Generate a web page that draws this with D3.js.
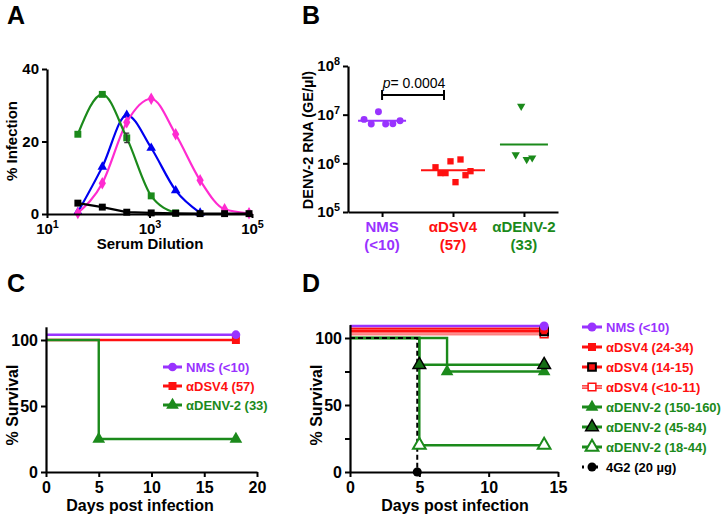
<!DOCTYPE html>
<html>
<head>
<meta charset="utf-8">
<script src="https://cdn.jsdelivr.net/npm/d3@7"></script>
<style>
  body { margin: 0; background: #fff; }
</style>
</head>
<body>
<div id="chart_area"></div>
<script>
// ---- panel A : % infection vs serum dilution
const dilutions = [40, 120, 360, 1080, 3240, 9720, 29160, 87480];
const infBlack = [3, 1.9, 0.5, 0.3, 0.2, 0.1, 0.1, 0.1];
const infGreen = [22, 33, 21, 5, 0.3];
const infGreenErr = [0, 0, 1.3, 0, 0];
const infBlue = [0.5, 13, 27.3, 18.2, 6.5, 0.3];
const infMagenta = [0.3, 8.5, 25.3, 31.8, 22, 9.3, 1.3, 0.2];
const aXTicks = [10, 1e3, 1e5];
const aYTicks = [0, 20, 40];

// ---- panel B : viral RNA per group
const rnaGroups = ['NMS', 'αDSV4', 'αDENV-2'];
const rnaTiters = ['(<10)', '(57)', '(33)'];
const rnaNMS = [8.0e6, 6.4e6, 1.15e7, 6.4e6, 6.5e6, 7.5e6];
const rnaDSV4 = [8.3e5, 6.3e5, 6.3e5, 1.1e6, 4.1e5, 1.2e6, 5.7e5, 6.9e5];
const rnaDENV2 = [1.5e6, 1.5e7, 1.2e6, 1.3e6];
const bYTicks = [1e5, 1e6, 1e7, 1e8];
const pText = '= 0.0004';

// ---- panel C : survival
const cLabels = ['NMS (<10)', 'αDSV4 (57)', 'αDENV-2 (33)'];
const cDays = [[0, 18], [0, 18], [0, 5, 18]];
const cSurvival = [[100, 100], [100, 100], [100, 25, 25]];
const cXTicks = [0, 5, 10, 15, 20];

// ---- panel D : survival
const dLabels = ['NMS (<10)', 'αDSV4 (24-34)', 'αDSV4 (14-15)', 'αDSV4 (<10-11)',
  'αDENV-2 (150-160)', 'αDENV-2 (45-84)', 'αDENV-2 (18-44)', '4G2 (20 µg)'];
const dDays = [[0, 14], [0, 14], [0, 14], [0, 14], [0, 7, 14], [0, 5, 14], [0, 5, 14], [0, 5]];
const dSurvival = [[100, 100], [100, 100], [100, 100], [100, 100],
  [100, 75, 75], [100, 80, 80], [100, 20, 20], [100, 0]];
const dXTicks = [0, 5, 10, 15];
const survYTicks = [0, 50, 100];
const survYTicksD = [0, 25, 50, 75, 100];

// colours
const PURPLE = '#9933ff';
const RED = '#ff1010';
const GREEN = '#1b8a1b';
const BLUE = '#0000f0';
const MAGENTA = '#ff2bd0';
const FONT = '"Liberation Sans", Arial, Helvetica, sans-serif';

const svg = d3.select('#chart_area').append('svg')
  .attr('width', 724).attr('height', 518)
  .style('font-family', FONT).style('font-weight', 'bold');

function styleAxis(g, fs) {
  g.attr('font-family', null).attr('font-size', null);
  g.selectAll('path.domain').attr('stroke', '#000').attr('stroke-width', 2.2);
  g.selectAll('.tick line').attr('stroke', '#000').attr('stroke-width', 2);
  g.selectAll('.tick text').attr('font-size', fs).attr('fill', '#000');
}

function powerLabels(g, fs) {
  g.selectAll('.tick text').each(function (d) {
    const e = Math.round(Math.log10(d));
    const t = d3.select(this).text('10');
    t.append('tspan').attr('dy', -6).attr('font-size', fs * 0.72).text(e);
  });
}

function marker(g, type, x, y, size, fill, stroke, sw) {
  const shapes = { circle: d3.symbolCircle, square: d3.symbolSquare, triangle: d3.symbolTriangle,
    diamond: d3.symbolDiamond, down: d3.symbolTriangle };
  const p = g.append('path')
    .attr('d', d3.symbol().type(shapes[type]).size(size)())
    .attr('transform', `translate(${x},${y})` + (type === 'down' ? ' rotate(180)' : ''))
    .attr('fill', fill);
  if (stroke) p.attr('stroke', stroke).attr('stroke-width', sw || 1.5);
  return p;
}

function panelLetter(x, y, t) {
  svg.append('text').attr('x', x).attr('y', y).attr('font-size', 25).text(t);
}
panelLetter(7, 24, 'A');
panelLetter(302, 24, 'B');
panelLetter(7, 292, 'C');
panelLetter(302, 292, 'D');

// ================= A
(function () {
  const xA = d3.scaleLog().domain([10, 1e5]).range([47, 252]);
  const yA = d3.scaleLinear().domain([0, 40]).range([214, 69]);
  const g = svg.append('g');

  const series = [
    { v: infBlue, color: BLUE, m: 'triangle', size: 40, curve: d3.curveMonotoneX },
    { v: infMagenta, color: MAGENTA, m: 'diamond', size: 45, curve: d3.curveMonotoneX },
    { v: infGreen, color: GREEN, m: 'square', size: 48, curve: d3.curveMonotoneX },
    { v: infBlack, color: '#000', m: 'square', size: 48, curve: d3.curveLinear }
  ];
  series.forEach((s) => {
    const pts = s.v.map((v, i) => [dilutions[i], v]);
    g.append('path').datum(pts)
      .attr('fill', 'none').attr('stroke', s.color).attr('stroke-width', 2.2)
      .attr('d', d3.line().x((d) => xA(d[0])).y((d) => yA(d[1])).curve(s.curve));
    pts.forEach((d) => marker(g, s.m, xA(d[0]), yA(d[1]), s.size, s.color));
  });
  // error bars on green
  infGreenErr.forEach((e, i) => {
    if (!e) return;
    const x = xA(dilutions[i]);
    g.append('path').attr('stroke', '#333').attr('stroke-width', 1.2).attr('fill', 'none')
      .attr('d', `M${x - 2.5},${yA(infGreen[i] + e)}H${x + 2.5}M${x},${yA(infGreen[i] + e)}V${yA(infGreen[i] - e)}M${x - 2.5},${yA(infGreen[i] - e)}H${x + 2.5}`);
  });

  const ax = g.append('g').attr('transform', 'translate(0,214)')
    .call(d3.axisBottom(xA).tickValues(aXTicks).tickSize(4).tickSizeOuter(0).tickPadding(5));
  styleAxis(ax, 15);
  powerLabels(ax, 15);
  const ay = g.append('g').attr('transform', 'translate(47,0)')
    .call(d3.axisLeft(yA).tickValues(aYTicks).tickSize(5).tickSizeOuter(0).tickPadding(3));
  styleAxis(ay, 15);

  g.append('text').attr('x', 150).attr('y', 249).attr('text-anchor', 'middle')
    .attr('font-size', 15).text('Serum Dilution');
  g.append('text').attr('transform', 'translate(17,141) rotate(-90)').attr('text-anchor', 'middle')
    .attr('font-size', 15).text('% Infection');
})();

// ================= B
(function () {
  const xB = d3.scalePoint().domain(rnaGroups).range([348, 558]).padding(0.48);
  const yB = d3.scaleLog().domain([1e5, 1e8]).range([212, 66]);
  const g = svg.append('g');
  const groups = [
    { v: rnaNMS, color: PURPLE, m: 'circle', size: 38, step: 7.2 },
    { v: rnaDSV4, color: RED, m: 'square', size: 40, step: 5 },
    { v: rnaDENV2, color: GREEN, m: 'down', size: 30, step: 5.5 }
  ];
  const colors = groups.map((d) => d.color);
  groups.forEach((s, k) => {
    const cx = xB(rnaGroups[k]);
    s.v.forEach((v, i) => {
      marker(g, s.m, cx + (i - (s.v.length - 1) / 2) * s.step, yB(v), s.size, s.color);
    });
    const gm = Math.pow(10, d3.mean(s.v, (v) => Math.log10(v)));
    const hw = Math.max(24, s.v.length * 4);
    g.append('line').attr('x1', cx - hw).attr('x2', cx + hw)
      .attr('y1', yB(gm)).attr('y2', yB(gm))
      .attr('stroke', s.color).attr('stroke-width', 2);
  });

  const ax = g.append('g').attr('transform', 'translate(0,212)')
    .call(d3.axisBottom(xB).tickSize(5).tickSizeOuter(0).tickFormat(''));
  styleAxis(ax, 15);
  rnaGroups.forEach((c, k) => {
    g.append('text').attr('x', xB(c)).attr('y', 232).attr('text-anchor', 'middle')
      .attr('font-size', 15).attr('fill', colors[k]).text(c);
    g.append('text').attr('x', xB(c)).attr('y', 250).attr('text-anchor', 'middle')
      .attr('font-size', 15).attr('fill', colors[k]).text(rnaTiters[k]);
  });
  const ay = g.append('g').attr('transform', 'translate(348,0)')
    .call(d3.axisLeft(yB).tickValues(bYTicks).tickSize(5).tickSizeOuter(0).tickPadding(3));
  styleAxis(ay, 15);
  powerLabels(ay, 15);

  g.append('text').attr('transform', 'translate(313,140) rotate(-90)').attr('text-anchor', 'middle')
    .attr('font-size', 14.5).text('DENV-2 RNA (GE/µl)');

  // significance bracket
  const bx1 = xB('NMS'), bx2 = xB('αDSV4') - 9;
  g.append('path').attr('fill', 'none').attr('stroke', '#000').attr('stroke-width', 2)
    .attr('d', `M${bx1},90V100M${bx1},95H${bx2}M${bx2},90V100`);
  const pt = g.append('text').attr('x', (bx1 + bx2) / 2 + 1).attr('y', 88).attr('text-anchor', 'middle')
    .attr('font-size', 14).attr('font-weight', 'normal');
  pt.append('tspan').attr('font-style', 'italic').text('p');
  pt.append('tspan').text(pText);
})();

// ================= survival helper
function drawSurvival(g, xs, ys, days, surv, styles) {
  const line = d3.line().x((d) => xs(d[0])).y((d) => ys(d[1])).curve(d3.curveStepAfter);
  styles.forEach((st) => {
    const k = st.idx;
    const pts = days[k].map((t, i) => [i === 0 ? t : t + (st.nudge || 0), surv[k][i] + (st.offset || 0)]);
    const path = g.append('path').datum(pts).attr('fill', 'none')
      .attr('stroke', st.dash ? '#000' : st.color).attr('stroke-width', st.width || 2.4)
      .attr('d', line);
    if (st.dash) path.attr('stroke-dasharray', st.dash);
    if (st.double) {
      g.append('path').datum(pts).attr('fill', 'none')
        .attr('stroke', '#fff').attr('stroke-width', 1).attr('d', line);
    }
  });
  styles.forEach((st) => {
    const k = st.idx;
    days[k].forEach((t, i) => {
      if (i === 0) return;
      marker(g, st.m, xs(t + (st.nudge || 0)), ys(surv[k][i] + (st.offset || 0)),
        st.size, st.fill, st.stroke, st.sw);
    });
  });
}

function legendRow(g, x, y, st, label, len) {
  g.append('line').attr('x1', x).attr('x2', x + len).attr('y1', y).attr('y2', y)
    .attr('stroke', st.dash ? '#000' : st.color).attr('stroke-width', st.double ? 3.5 : 3)
    .attr('stroke-dasharray', st.dash ? '2,5' : null);
  if (st.double) {
    g.append('line').attr('x1', x).attr('x2', x + len).attr('y1', y).attr('y2', y)
      .attr('stroke', '#fff').attr('stroke-width', 1);
  }
  marker(g, st.m, x + len / 2, y, st.size, st.fill, st.stroke, st.sw);
  g.append('text').attr('x', x + len + 4).attr('y', y).attr('dy', '0.35em')
    .attr('font-size', 13).attr('fill', st.dash ? '#000' : st.color).text(label);
}

// ================= C
(function () {
  const xC = d3.scaleLinear().domain([0, 20]).range([46, 257]);
  const yC = d3.scaleLinear().domain([0, 110]).range([472, 326.8]);
  const g = svg.append('g');
  const styles = [
    { idx: 1, color: RED, m: 'square', size: 64, fill: RED },
    { idx: 2, color: GREEN, m: 'triangle', size: 70, fill: GREEN },
    { idx: 0, color: PURPLE, m: 'circle', size: 60, fill: PURPLE, offset: 4 }
  ];
  drawSurvival(g, xC, yC, cDays, cSurvival, styles);

  const ax = g.append('g').attr('transform', 'translate(0,472)')
    .call(d3.axisBottom(xC).tickValues(cXTicks).tickSize(5).tickSizeOuter(0).tickPadding(5));
  styleAxis(ax, 16);
  const ay = g.append('g').attr('transform', 'translate(46,0)')
    .call(d3.axisLeft(yC).tickValues(survYTicks).tickSize(5).tickSizeOuter(0).tickPadding(3));
  styleAxis(ay, 16);
  g.append('text').attr('x', 140).attr('y', 511).attr('text-anchor', 'middle')
    .attr('font-size', 16).text('Days post infection');
  g.append('text').attr('transform', 'translate(18,405) rotate(-90)').attr('text-anchor', 'middle')
    .attr('font-size', 16).text('% Survival');

  const lg = g.append('g');
  [0, 1, 2].forEach((k, i) => {
    const st = styles.find((s) => s.idx === k);
    legendRow(lg, 163, 367 + i * 19, st, cLabels[k], 19);
  });
})();

// ================= D
(function () {
  const xD = d3.scaleLinear().domain([0, 15]).range([350, 558]);
  const yD = d3.scaleLinear().domain([0, 110]).range([472, 324.6]);
  const g = svg.append('g');
  const styles = [
    { idx: 4, color: GREEN, m: 'triangle', size: 70, fill: GREEN },
    { idx: 5, color: GREEN, m: 'triangle', size: 70, fill: '#156e15', stroke: '#000', sw: 1.5 },
    { idx: 6, color: GREEN, m: 'triangle', size: 70, fill: '#fff', stroke: GREEN, sw: 2 },
    { idx: 3, color: RED, m: 'square', size: 60, fill: '#fff', stroke: RED, sw: 1.5, offset: 3, double: true },
    { idx: 2, color: RED, m: 'square', size: 60, fill: RED, stroke: '#000', sw: 2, offset: 5 },
    { idx: 1, color: RED, m: 'square', size: 64, fill: RED, offset: 7 },
    { idx: 0, color: PURPLE, m: 'circle', size: 64, fill: PURPLE, offset: 9 },
    { idx: 7, color: '#000', m: 'circle', size: 64, fill: '#000', dash: '5,3', nudge: -0.15, width: 2 }
  ];
  drawSurvival(g, xD, yD, dDays, dSurvival, styles);

  const ax = g.append('g').attr('transform', 'translate(0,472)')
    .call(d3.axisBottom(xD).tickValues(dXTicks).tickSize(5).tickSizeOuter(0).tickPadding(5));
  styleAxis(ax, 16);
  const ay = g.append('g').attr('transform', 'translate(350,0)')
    .call(d3.axisLeft(yD).tickValues(survYTicksD).tickSize(5).tickSizeOuter(0).tickPadding(3)
      .tickFormat((d) => (d % 50 === 0 ? d : '')));
  styleAxis(ay, 16);
  g.append('text').attr('x', 455).attr('y', 511).attr('text-anchor', 'middle')
    .attr('font-size', 16).text('Days post infection');
  g.append('text').attr('transform', 'translate(322,405) rotate(-90)').attr('text-anchor', 'middle')
    .attr('font-size', 16).text('% Survival');

  const lg = g.append('g');
  dLabels.forEach((lab, k) => {
    const st = styles.find((s) => s.idx === k);
    legendRow(lg, 582, 327 + k * 20, st, lab, 20);
  });
})();
</script>
</body>
</html>
